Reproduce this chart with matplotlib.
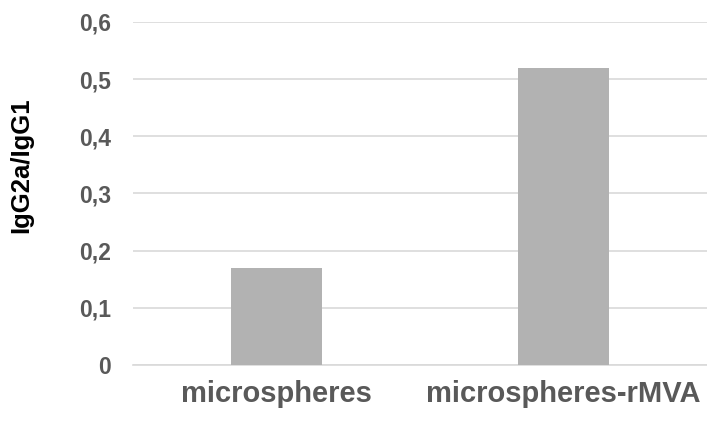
import matplotlib
matplotlib.use("Agg")
import matplotlib.pyplot as plt

categories = ["microspheres", "microspheres-rMVA"]
values = [0.17, 0.52]
yticks = [0, 0.1, 0.2, 0.3, 0.4, 0.5, 0.6]

plt.rcParams["font.family"] = ["Liberation Sans", "DejaVu Sans"]
plt.rcParams["font.weight"] = "bold"

fig = plt.figure(figsize=(7.07, 4.21), dpi=100)
ax = fig.add_axes([133 / 707, (421 - 365) / 421, 574 / 707, (365 - 22) / 421])

ax.bar(range(len(categories)), values, width=0.317, color="#b2b2b2", zorder=3)
ax.set_xlim(-0.5, 1.5)
ax.set_ylim(0, 0.6)
ax.set_yticks(yticks)
ax.set_yticklabels(["0" if t == 0 else f"{t:.1f}".replace(".", ",") for t in yticks])
ax.set_xticks(range(len(categories)))
ax.set_xticklabels(categories, fontsize=21, fontweight="bold", color="#595959")
ax.tick_params(axis="y", length=0, pad=15.8, labelsize=16.5, labelcolor="#595959")
ax.tick_params(axis="x", length=0, pad=11)
ax.grid(axis="y", color="#d9d9d9", linewidth=1.2, zorder=0)
for s in ["top", "right", "left"]:
    ax.spines[s].set_visible(False)
ax.spines["bottom"].set_color("#d9d9d9")
ax.spines["bottom"].set_linewidth(1.2)
ax.set_ylabel("IgG2a/IgG1", fontsize=18.5, fontweight="bold", color="black")
ax.yaxis.set_label_coords(33 / 707, (421 - 165) / 421, transform=fig.transFigure)

fig.savefig("out.png", dpi=100)
